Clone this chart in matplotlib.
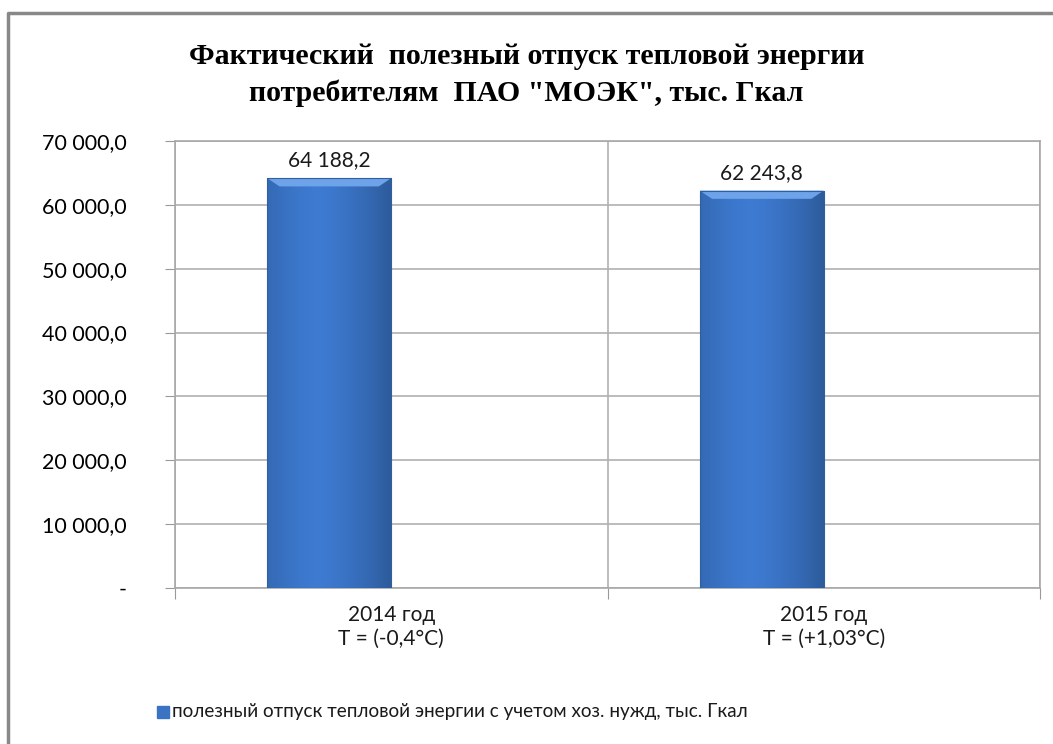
import matplotlib.pyplot as plt
import numpy as np
from matplotlib.lines import Line2D
from matplotlib.patches import Rectangle, Polygon

categories = ["2014 год\nT = (-0,4°C)", "2015 год\nT = (+1,03°C)"]
values = [64188.2, 62243.8]
second_values = [60.0, 0.0]  # faint near-zero second series next to 2014
yticks = [0, 10000, 20000, 30000, 40000, 50000, 60000, 70000]
series_name = "полезный отпуск тепловой энергии с учетом хоз. нужд, тыс. Гкал"
title = 'Фактический  полезный отпуск тепловой энергии\nпотребителям  ПАО "МОЭК", тыс. Гкал'


def fmt(v, dec=1):
    s = f"{v:,.{dec}f}"
    return s.replace(",", " ").replace(".", ",")


fig = plt.figure(figsize=(10.53, 7.44), dpi=100)
ax = fig.add_axes([175 / 1053, 1 - 588 / 744, 865 / 1053, 447 / 744])

x = np.arange(len(categories))
w = 0.287
bars = ax.bar(x - w / 2, values, w, color="#3a73c2", zorder=3)
ax.bar(x + w / 2, second_values, w, color="#e9c9cc", zorder=3)

# gradient fill for the main bars (slightly darker at the edges)
grad = np.linspace(0, 1, 100)
shade = 1 - 0.22 * np.abs(grad - 0.4) ** 1.5 * 2.5
img = np.zeros((1, 100, 3))
base = np.array([0.24, 0.48, 0.82])
img[0] = np.clip(base[None, :] * shade[:, None], 0, 1)
for b in bars:
    x0, y0 = b.get_x(), b.get_y()
    bw, bh = b.get_width(), b.get_height()
    im = ax.imshow(img, extent=[x0, x0 + bw, y0, y0 + bh], aspect="auto", zorder=4,
                   interpolation="bilinear")
    im.set_clip_path(b)
    bev = 1300
    dx = bw * 0.1
    ax.add_patch(Polygon([[x0, y0 + bh], [x0 + bw, y0 + bh], [x0 + bw - dx, y0 + bh - bev],
                          [x0 + dx, y0 + bh - bev]], closed=True, color="#6ea3ea",
                         zorder=5, lw=0))
    ax.add_patch(Rectangle((x0, y0), bw, bh, fill=False, ec="#2e5f9e", lw=0.8, zorder=6))
    ax.text(x0 + bw / 2, y0 + bh + 1200, fmt(b.get_height()), ha="center", va="bottom",
            fontsize=15, family="Lato", color="#1a1a1a")

ax.set_xlim(-0.5, 1.5)
ax.set_ylim(0, 70000)
ax.set_yticks(yticks)
ax.set_yticklabels(["-"] + [fmt(v) for v in yticks[1:]], fontsize=15.5, family="Lato")
ax.set_xticks([-0.5, 0.5, 1.5])
ax.set_xticklabels([])
ax.tick_params(axis="y", length=7, color="#999999", pad=28)
ax.tick_params(axis="x", length=8, color="#999999")
ax.grid(True, color="#b0b0b0", lw=1.2, zorder=0)
for s in ["left", "bottom", "top", "right"]:
    ax.spines[s].set_color("#a8a8a8")
    ax.spines[s].set_linewidth(1.2)
for i, c in enumerate(categories):
    ax.text(i, -2700, c, ha="center", va="top", fontsize=15, family="Lato",
            linespacing=1.25, color="#1a1a1a")

fig.text(0.5, 1 - 75 / 744, title, ha="center", va="center", fontsize=21.5,
         family="Liberation Serif", fontweight="bold", linespacing=1.4)

fig.add_artist(Rectangle((157 / 1053, 1 - 718 / 744), 12 / 1053, 12 / 744,
                         transform=fig.transFigure, color="#3a73c2"))
fig.text(172 / 1053, 1 - 712 / 744, series_name, ha="left", va="center",
         fontsize=13.6, family="Lato", color="#1a1a1a")

# chart area border (only top/left visible in the crop)
fig.add_artist(Line2D([8 / 1053, 8 / 1053, 1.0], [0, 1 - 13 / 744, 1 - 13 / 744],
                      transform=fig.transFigure, color="#888888", lw=2.5))

fig.savefig("out.png", dpi=100)
